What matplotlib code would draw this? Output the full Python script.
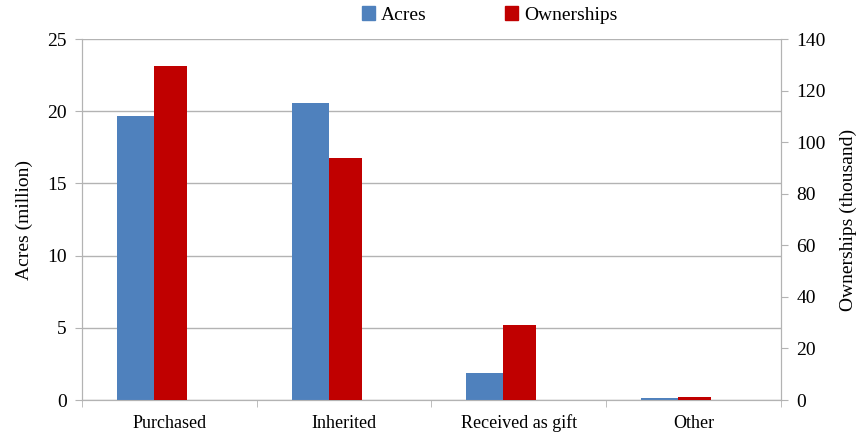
import numpy as np
import matplotlib
matplotlib.use('Agg')
import matplotlib.pyplot as plt
from matplotlib.patches import Patch

categories = ['Purchased', 'Inherited', 'Received as gift', 'Other']
acres = [19.65, 20.55, 1.85, 0.12]           # million
ownerships = [129.6, 93.9, 29.0, 1.2]       # thousand

plt.rcParams['font.family'] = ['Liberation Serif', 'DejaVu Serif']
blue = '#4f81bd'
red = '#c00000'
grid_c = '#b3b3b3'

fig = plt.figure(figsize=(8.62, 4.34), dpi=100)
ax = fig.add_axes([0.0951, 0.0783, 0.8109, 0.8317])
ax2 = ax.twinx()

x = np.arange(len(categories))
ax.bar(x - 0.3, acres, width=0.211, align='edge', color=blue, zorder=3)
ax2.bar(x - 0.089, ownerships, width=0.189, align='edge', color=red, zorder=3)

ax.set_xlim(-0.5, len(categories) - 0.5)
ax.set_ylim(0, 25)
ax2.set_ylim(0, 140)
ax.set_yticks(np.arange(0, 26, 5))
ax2.set_yticks(np.arange(0, 141, 20))

ax.set_xticks(x)
ax.set_xticklabels(categories, va='baseline')
ax.set_xticks(np.arange(-0.5, len(categories), 1), minor=True)
ax.tick_params(axis='x', which='major', length=0, pad=20, labelsize=13)
ax.tick_params(axis='x', which='minor', length=5, color=grid_c)
ax.tick_params(axis='y', length=5, color=grid_c, labelsize=14, pad=6)
ax2.tick_params(axis='y', length=5, color=grid_c, labelsize=14, pad=6)

ax.yaxis.grid(True, color=grid_c, linewidth=1)
ax.set_axisbelow(True)
for a in (ax, ax2):
    a.spines['top'].set_visible(False)
    for s in ('left', 'right', 'bottom'):
        a.spines[s].set_color(grid_c)

ax.set_ylabel('Acres (million)', fontsize=14, labelpad=10)
ax2.set_ylabel('Ownerships (thousand)', fontsize=14, labelpad=10)

handles = [Patch(color=blue, label='Acres'), Patch(color=red, label='Ownerships')]
fig.legend(handles=handles, loc='center', bbox_to_anchor=(0.568, 0.965), ncol=2,
           frameon=False, fontsize=14, handlelength=0.7, handleheight=0.7,
           handletextpad=0.3, columnspacing=4)

fig.savefig('out.png', dpi=100)
